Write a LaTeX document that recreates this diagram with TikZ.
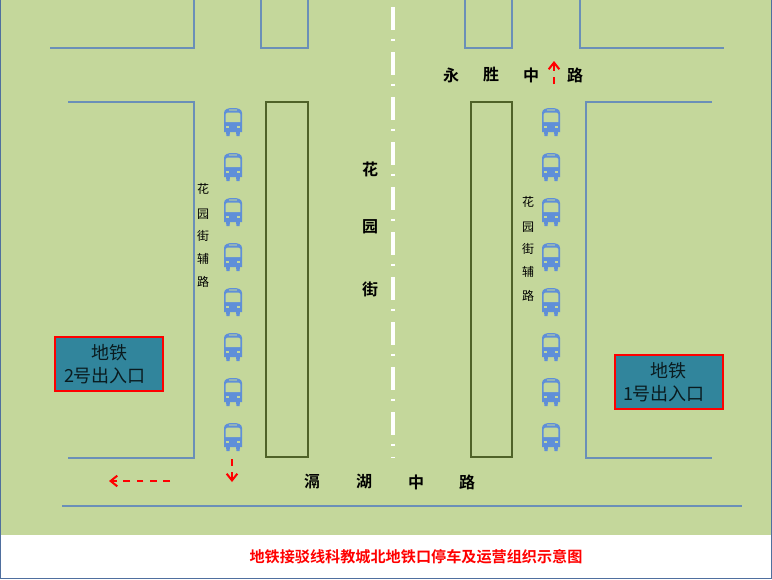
\documentclass[tikz,border=0pt]{standalone}
\usepackage{fontspec}
\setmainfont{Liberation Serif}
\newfontfamily\cjk{Noto Sans CJK SC}
\newfontfamily\cjkb{Noto Sans CJK SC Bold}
\definecolor{bggreen}{HTML}{C4D79B}
\definecolor{roadblue}{HTML}{6A8FB8}
\definecolor{framec}{HTML}{4F6F9F}
\definecolor{islandc}{HTML}{4F6228}
\definecolor{busblue}{HTML}{5F8FD8}
\definecolor{boxteal}{HTML}{31859C}
\usetikzlibrary{arrows.meta}
\tikzset{
  x=0.75pt,y=-0.75pt,
  road/.style={draw=roadblue,line width=0.8pt},
  island/.style={draw=islandc,line width=1.6pt},
  redarrow/.style={draw=red,line width=1.5pt,dash pattern=on 5pt off 5pt,-{Straight Barb[length=5pt,width=8pt]}},
  exitbox/.style={draw=red,line width=1.5pt,fill=boxteal},
  exittext/.style={font=\cjk\fontsize{13.5pt}{16.5pt}\selectfont,align=center,text=black!80!boxteal,inner sep=0pt},
  bigroad/.style={font=\cjkb\fontsize{12pt}{14pt}\selectfont,inner sep=0pt},
  smallroad/.style={font=\cjk\fontsize{9pt}{11pt}\selectfont,inner sep=0pt},
  titletext/.style={font=\cjkb\fontsize{11.35pt}{13pt}\selectfont,text=red,inner sep=0pt},
  bus/.pic={
    \fill[busblue] (-9,-9) .. controls (-9,-13) and (-5,-14) .. (0,-14) .. controls (5,-14) and (9,-13) .. (9,-9)
      -- (9,10) -- (7,10) -- (6.5,14) -- (3.5,14) -- (3,10) -- (-3,10) -- (-3.5,14) -- (-6.5,14) -- (-7,10) -- (-9,10) -- cycle;
    \fill[bggreen] (-7.3,-7.5) .. controls (-7.3,-8.5) and (-6,-9.5) .. (-5,-9.5) -- (5,-9.5) .. controls (6,-9.5) and (7.3,-8.5) .. (7.3,-7.5) -- (7.3,0) -- (-7.3,0) -- cycle;
    \fill[bggreen!50!busblue] (-4,-12.6) rectangle (4,-11);
    \fill[bggreen] (-7,3.8) rectangle (-4,6.3);
    \fill[bggreen] (4,3.8) rectangle (7,6.3);
  }
}
\begin{document}
\begin{tikzpicture}
\useasboundingbox (0,0) rectangle (772,579);
\fill[white] (0,0) rectangle (772,579);
\fill[bggreen] (0,0) rectangle (772,535);
\draw[framec,line width=1pt] (0.6,0) -- (0.6,578.4) -- (771.4,578.4) -- (771.4,0);
% road edges
\draw[road] (50,48) -- (194,48) -- (194,0);
\draw[road] (261,0) -- (261,48) -- (308,48) -- (308,0);
\draw[road] (465,0) -- (465,48) -- (512,48) -- (512,0);
\draw[road] (580,0) -- (580,48) -- (724,48);
\draw[road] (68,102) -- (194,102) -- (194,458) -- (68,458);
\draw[road] (712,102) -- (586,102) -- (586,458) -- (712,458);
\draw[road] (62,506) -- (742,506);
% islands
\draw[island] (266,102) rectangle (308,457);
\draw[island] (471,102) rectangle (512,457);
% centre line
\draw[white,line width=2.3pt,dash pattern=on 17.25pt off 6.4pt on 2.2pt off 7.9pt] (393,7) -- (393,458);
% buses
\foreach \y/\n in {122/1,167/2,212/3,257/4,302/5,347/6,392/7,437/8}{
  \pic (busl\n) at (233,\y) {bus};
  \pic (busr\n) at (551,\y) {bus};
}
% arrows
\coordinate (a1s) at (232,459); \coordinate (a1e) at (232,482);
\coordinate (a2s) at (170,481); \coordinate (a2e) at (109,481);
\coordinate (a3s) at (554,84); \coordinate (a3e) at (554,61);
\draw[redarrow] (a1s) -- (a1e);
\draw[redarrow] (a2s) -- (a2e);
\draw[redarrow] (a3s) -- (a3e);
% exit boxes
\draw[exitbox] (55,337) rectangle (163,391);
\draw[exitbox] (615,355) rectangle (723,409);
\node[exittext] (exit2a) at (109,353) {地铁};
\node[exittext] (exit2b) at (105,376) {2号出入口};
\node[exittext] (exit1a) at (668,371) {地铁};
\node[exittext] (exit1b) at (664,394) {1号出入口};
% road names
\node[bigroad] (y1) at (451,75) {永};
\node[bigroad] (y2) at (491,75) {胜};
\node[bigroad] (y3) at (531,75) {中};
\node[bigroad] (y4) at (575,75) {路};
\node[bigroad] (h1) at (370,169) {花};
\node[bigroad] (h2) at (370,227) {园};
\node[bigroad] (h3) at (370,289) {街};
\node[bigroad] (g1) at (312,482) {滆};
\node[bigroad] (g2) at (364,482) {湖};
\node[bigroad] (g3) at (416,482) {中};
\node[bigroad] (g4) at (467,482) {路};
\foreach \c/\y/\n in {花/189/1,园/214/2,街/236/3,辅/259/4,路/282/5}
  \node[smallroad] (sl\n) at (203,\y) {\c};
\foreach \c/\y/\n in {花/202/1,园/227/2,街/249/3,辅/272/4,路/296/5}
  \node[smallroad] (sr\n) at (528,\y) {\c};
\node[titletext] (title) at (416,557) {地铁接驳线科教城北地铁口停车及运营组织示意图};
\end{tikzpicture}
\end{document}
